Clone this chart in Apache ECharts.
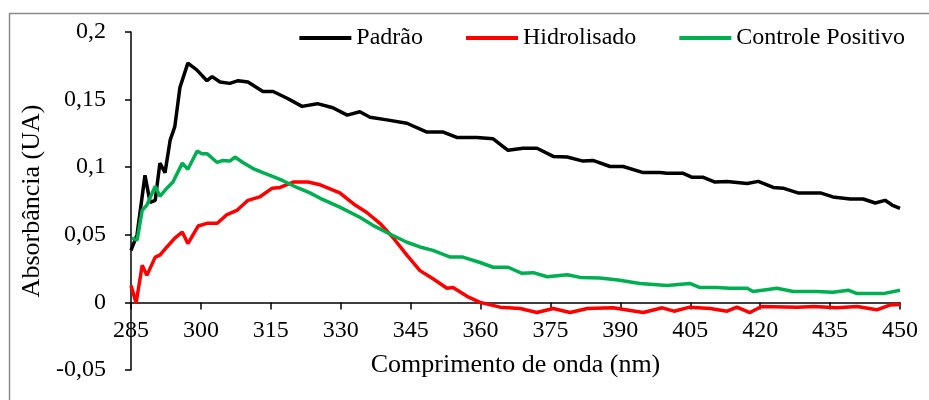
<!DOCTYPE html>
<html>
<head>
<meta charset="utf-8">
<script src="https://cdn.jsdelivr.net/npm/echarts@6/dist/echarts.min.js"></script>
<style>html,body{margin:0;padding:0;background:#fff}#c{width:929px;height:400px}</style>
</head>
<body>
<div id="c"></div>
<script>
var seriesNames = ['Padrão', 'Hidrolisado', 'Controle Positivo'];
var xTicks = [285, 300, 315, 330, 345, 360, 375, 390, 405, 420, 435, 450];
var yTicks = [-0.05, 0, 0.05, 0.1, 0.15, 0.2];

var padraoX = [285, 286.3, 288.0, 289.1, 290.2, 291.2, 292.3, 293.4, 294.4, 295.5, 297.2, 299.1, 301.3, 302.4, 304.1, 306.2, 308, 310.1, 313.3, 315.5, 318.5, 321.7, 325, 328.3, 331.4, 334.1, 336.3, 339.9, 344.2, 348.5, 352, 354.9, 359.2, 362.7, 365.9, 369.1, 372.1, 375.6, 378.6, 382, 384.1, 387.8, 390.6, 394.9, 398.5, 400, 403.5, 405.4, 407.8, 410.3, 412.9, 417.2, 419.6, 422.8, 424.9, 428.1, 432.9, 435.6, 439.3, 442.1, 444.7, 446.8, 448.3, 450];
var padraoY = [0.0385, 0.05, 0.094, 0.074, 0.0755, 0.103, 0.096, 0.12, 0.13, 0.159, 0.177, 0.172, 0.164, 0.167, 0.163, 0.162, 0.164, 0.163, 0.156, 0.156, 0.151, 0.145, 0.147, 0.144, 0.1385, 0.141, 0.137, 0.135, 0.1325, 0.126, 0.126, 0.122, 0.122, 0.121, 0.1125, 0.114, 0.114, 0.108, 0.1075, 0.1045, 0.105, 0.1005, 0.1005, 0.096, 0.096, 0.0955, 0.0955, 0.0925, 0.0925, 0.089, 0.0895, 0.088, 0.0895, 0.085, 0.0845, 0.081, 0.081, 0.078, 0.0765, 0.0765, 0.0735, 0.0755, 0.072, 0.0695];

var hidroX = [285, 286.1, 287.4, 288.4, 290.2, 291.2, 292.7, 294.4, 296, 297.2, 299.4, 301.3, 303.5, 305.6, 307.7, 310.1, 312.6, 315.3, 317, 319.8, 323, 325.6, 329.8, 333.1, 335.6, 338.4, 341.2, 344.2, 347, 349.8, 352.8, 354.1, 357.1, 359.9, 364.2, 368.5, 372.1, 375.6, 379.2, 382.9, 388.4, 394.9, 399, 401.5, 404.9, 409.3, 412.9, 415, 417.8, 420.3, 428, 431.5, 436.5, 440.8, 445, 447.8, 450];
var hidroY = [0.0125, -0.0005, 0.0275, 0.02, 0.0335, 0.035, 0.041, 0.0475, 0.052, 0.0435, 0.0565, 0.0585, 0.0585, 0.065, 0.068, 0.0755, 0.078, 0.0845, 0.085, 0.089, 0.089, 0.087, 0.081, 0.072, 0.0665, 0.0585, 0.048, 0.035, 0.0235, 0.0175, 0.0105, 0.011, 0.0045, 0, -0.0035, -0.0045, -0.0075, -0.0045, -0.0075, -0.0045, -0.004, -0.0075, -0.004, -0.0065, -0.0035, -0.0045, -0.0065, -0.0035, -0.0075, -0.003, -0.0035, -0.003, -0.004, -0.003, -0.0055, -0.002, -0.0015];

var controleX = [285.2, 286.3, 287.4, 288.4, 290.2, 291.2, 292.7, 294, 296, 297.2, 299.2, 300.2, 301.3, 303.5, 304.7, 306.2, 307.3, 309, 311.2, 313.3, 315.5, 317.6, 320.6, 323.4, 325.6, 329.8, 334.1, 336.9, 341.2, 344.2, 347, 349.8, 353.5, 356.2, 359.9, 362.7, 365.9, 368.9, 371.3, 374.3, 378.6, 381.4, 385.6, 389.5, 394.2, 400, 404.9, 407.1, 410.7, 413.5, 417.2, 418.5, 423.6, 427.1, 432.2, 435.6, 438.9, 440.8, 446.4, 450];
var controleY = [0.0475, 0.046, 0.068, 0.072, 0.086, 0.0785, 0.0845, 0.089, 0.103, 0.0985, 0.112, 0.11, 0.11, 0.1035, 0.105, 0.1045, 0.1075, 0.1035, 0.099, 0.096, 0.093, 0.09, 0.085, 0.081, 0.077, 0.0705, 0.063, 0.057, 0.0495, 0.0445, 0.041, 0.0385, 0.0335, 0.0335, 0.0295, 0.026, 0.026, 0.0215, 0.022, 0.019, 0.0205, 0.0185, 0.018, 0.0165, 0.014, 0.0125, 0.014, 0.011, 0.011, 0.0105, 0.0105, 0.008, 0.0105, 0.008, 0.008, 0.0075, 0.009, 0.0065, 0.0065, 0.009];

function pairs(xs, ys) { return xs.map(function (x, i) { return [x, ys[i]]; }); }
function fmt(v) { return String(Math.round(v * 1000) / 1000).replace('.', ','); }

var FONT = 'Liberation Serif';
var chart = echarts.init(document.getElementById('c'));
chart.setOption({
  animation: false,
  backgroundColor: '#fff',
  textStyle: { fontFamily: FONT },
  graphic: [{
    type: 'rect', shape: { x: 9.5, y: 13.5, width: 940, height: 400 },
    style: { fill: 'none', stroke: '#8a8a8a', lineWidth: 1.5 }, silent: true, z: -10
  }],
  grid: { left: 131, right: 29, top: 32, bottom: 30, containLabel: false, outerBoundsMode: 'none' },
  legend: {
    right: 19, top: 21, itemGap: 43, itemWidth: 52, itemHeight: 4, icon: 'rect',
    data: seriesNames,
    textStyle: { fontFamily: FONT, fontSize: 24, color: '#000' }
  },
  xAxis: {
    type: 'value', min: 285, max: 450, interval: 15,
    name: 'Comprimento de onda (nm)', nameLocation: 'middle', nameGap: -18, nameMoveOverlap: false,
    nameTextStyle: { fontFamily: FONT, fontSize: 26, color: '#000' },
    axisLine: { onZero: true, lineStyle: { color: '#000', width: 1.5 } },
    axisTick: { show: true, length: 7, inside: false, lineStyle: { color: '#000', width: 1.5 } },
    axisLabel: { fontFamily: FONT, fontSize: 24, color: '#000', margin: -51,
      formatter: function (v) { return xTicks.indexOf(v) >= 0 ? String(v) : ''; } },
    splitLine: { show: false }
  },
  yAxis: {
    type: 'value', min: -0.05, max: 0.2, interval: 0.05,
    name: 'Absorbância (UA)', nameLocation: 'middle', nameGap: 80,
    nameTextStyle: { fontFamily: FONT, fontSize: 26, color: '#000' },
    axisLine: { show: true, lineStyle: { color: '#000', width: 1.5 } },
    axisTick: { show: true, length: 6, lineStyle: { color: '#000', width: 1.5 } },
    axisLabel: { fontFamily: FONT, fontSize: 24, color: '#000', margin: 25,
      formatter: function (v) { return fmt(v); } },
    splitLine: { show: false }
  },
  series: [
    { name: seriesNames[0], type: 'line', symbol: 'none', data: pairs(padraoX, padraoY),
      lineStyle: { color: '#000000', width: 3.5 }, itemStyle: { color: '#000000' } },
    { name: seriesNames[1], type: 'line', symbol: 'none', data: pairs(hidroX, hidroY),
      lineStyle: { color: '#ff0000', width: 3.5 }, itemStyle: { color: '#ff0000' } },
    { name: seriesNames[2], type: 'line', symbol: 'none', data: pairs(controleX, controleY),
      lineStyle: { color: '#00b050', width: 3.5 }, itemStyle: { color: '#00b050' } }
  ]
});
</script>
</body>
</html>
